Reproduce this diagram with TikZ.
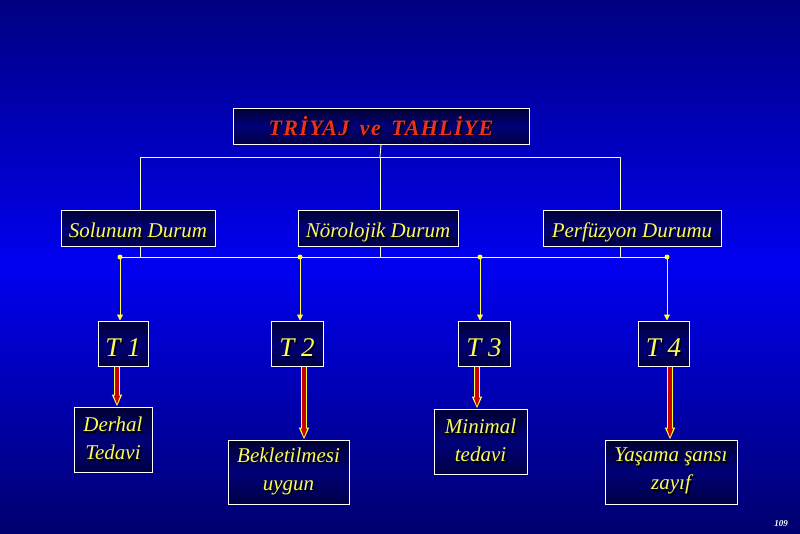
\documentclass[tikz,border=0pt]{standalone}
\usepackage{fontspec}
\setmainfont{Liberation Serif}
\usetikzlibrary{arrows.meta}
\definecolor{bgtop}{RGB}{0,0,130}
\definecolor{bgmid}{RGB}{0,0,240}
\definecolor{bgbot}{RGB}{0,0,110}
\definecolor{boxtop}{RGB}{0,0,50}
\definecolor{boxmid}{RGB}{0,0,120}
\definecolor{boxbot}{RGB}{0,0,70}
\definecolor{txtyel}{RGB}{250,250,90}
\definecolor{titred}{RGB}{240,50,20}
\definecolor{linecol}{RGB}{255,255,190}
\definecolor{arryel}{RGB}{255,255,60}
\definecolor{arrred}{RGB}{200,0,0}
\newcommand\shd[1]{\leavevmode\rlap{\kern1.5pt\raisebox{-1.5pt}{\color{black}#1}}#1}
\tikzset{
  box/.style={draw=white, line width=1pt, top color=boxtop, bottom color=boxbot, middle color=boxmid,
    inner sep=0pt, text=txtyel, font=\fontsize{21}{28}\selectfont\itshape, align=center},
  onebox/.style={box, text height=19pt, text depth=0pt},
  tbox/.style={box, font=\fontsize{27}{30}\selectfont\itshape, text height=26pt, text depth=0pt},
  conn/.style={draw=linecol, line width=0.9pt},
  yarr/.style={draw=arryel, line width=0.9pt, -{Triangle[width=6pt,length=6pt]}},
  dotn/.style={circle, fill=arryel, inner sep=0pt, minimum size=5pt},
}
\begin{document}
\begin{tikzpicture}[x=1pt,y=-1pt]
\useasboundingbox (0,0) rectangle (800,533);
\shade[top color=bgtop, bottom color=bgbot, middle color=bgmid] (0,0) rectangle (800,533);

% level 1
\node[box, minimum width=296pt, minimum height=36pt, text=titred, text height=18pt, text depth=0pt,
      font=\fontsize{22}{26}\selectfont\bfseries\itshape\addfontfeature{LetterSpace=6}] (title) at (381,126) {\shd{TRİYAJ\, ve\, TAHLİYE}};

% level 2
\node[onebox, minimum width=154pt, minimum height=36pt] (sol) at (138,228) {\shd{Solunum Durum}};
\node[onebox, minimum width=160pt, minimum height=36pt] (nor) at (378,228) {\shd{Nörolojik Durum}};
\node[onebox, minimum width=178pt, minimum height=36pt] (per) at (632,228) {\shd{Perfüzyon Durumu}};

% level 3
\node[tbox, minimum width=50pt, minimum height=45pt] (t1) at (123,343.5) {\shd{T 1}};
\node[tbox, minimum width=52pt, minimum height=45pt] (t2) at (297,343.5) {\shd{T 2}};
\node[tbox, minimum width=52pt, minimum height=45pt] (t3) at (484,343.5) {\shd{T 3}};
\node[tbox, minimum width=51pt, minimum height=45pt] (t4) at (663.5,343.5) {\shd{T 4}};

% level 4
\node[box, minimum width=78pt, minimum height=65pt] (dt) at (113,439.5) {\shd{Derhal}\\\shd{Tedavi}};
\node[box, minimum width=121pt, minimum height=64pt] (bu) at (288.5,472) {\shd{Bekletilmesi}\\\shd{uygun}};
\node[box, minimum width=93pt, minimum height=65pt] (mi) at (480.5,441.5) {\shd{Minimal}\\\shd{tedavi}};
\node[box, minimum width=132pt, minimum height=64pt] (ya) at (671,472) {\shd{Yaşama şansı}\\\shd{zayıf}};

% bus 1
\coordinate (b1) at (380,157);
\coordinate (b1l) at (140,157);
\coordinate (b1r) at (620,157);
\draw[conn] (title.south) -- (b1);
\draw[conn] (b1l) -- (b1r);
\draw[conn] (b1l) -- (b1l |- sol.north);
\draw[conn] (b1) -- (b1 |- nor.north);
\draw[conn] (b1r) -- (b1r |- per.north);

% bus 2
\node[dotn] (d1) at (120,257) {};
\node[dotn] (d2) at (300,257) {};
\node[dotn] (d3) at (480,257) {};
\node[dotn] (d4) at (667,257) {};
\draw[conn] (d1.center) -- (d4.center);
\draw[conn] (b1l |- sol.south) -- (b1l |- d1);
\draw[conn] (b1 |- nor.south) -- (b1 |- d1);
\draw[conn] (b1r |- per.south) -- (b1r |- d1);
\draw[yarr] (d1.center) -- (d1 |- t1.north);
\draw[yarr] (d2.center) -- (d2 |- t2.north);
\draw[yarr] (d3.center) -- (d3 |- t3.north);
\draw[yarr] (d4.center) -- (d4 |- t4.north);

% red block arrows
\coordinate (r1) at (117,0);
\coordinate (r2) at (304,0);
\coordinate (r3) at (477,0);
\coordinate (r4) at (670,0);
\foreach \r/\a/\b in {r1/t1/dt, r2/t2/bu, r3/t3/mi, r4/t4/ya}{
  \draw[draw=arryel, line width=6pt, -{Triangle[width=9.5pt,length=12pt]}, arryel] (\r |- \a.south) -- (\r |- \b.north);
  \draw[draw=arrred, line width=3.2pt, -{Triangle[width=5.5pt,length=9pt]}, arrred, shorten >=1.8pt] (\r |- \a.south) -- (\r |- \b.north);
}

% page number
\node[text=white, font=\fontsize{9}{10}\selectfont\bfseries\itshape] (pg) at (781,524) {109};
\end{tikzpicture}
\end{document}
